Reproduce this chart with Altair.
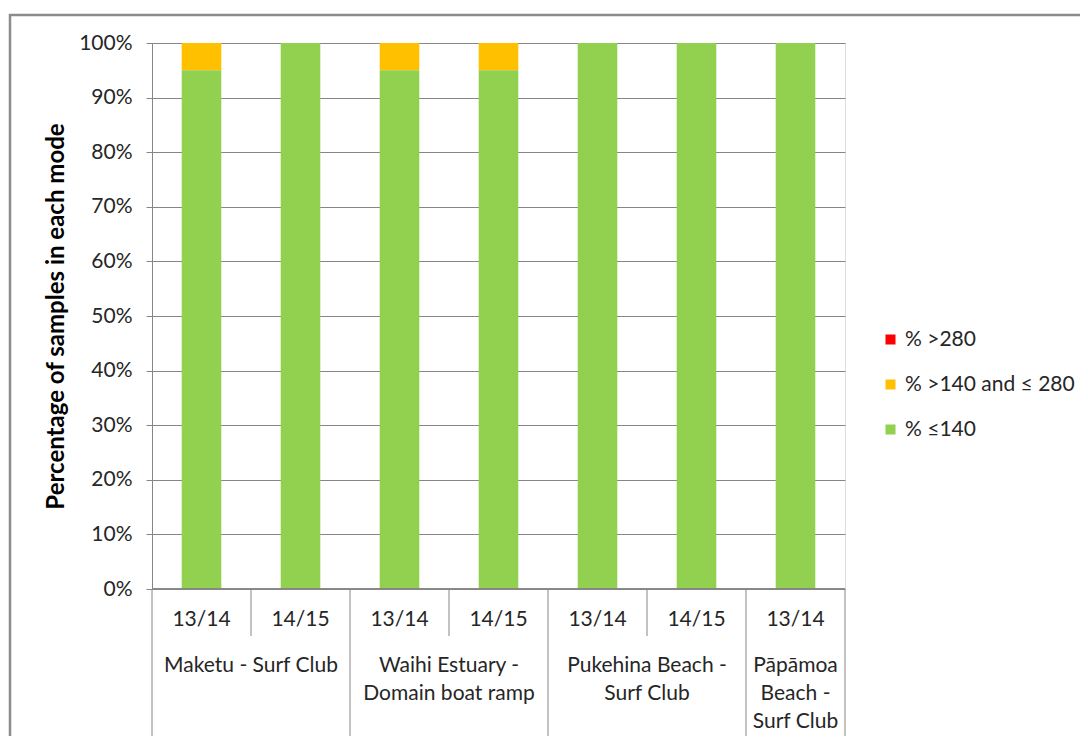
import altair as alt
import pandas as pd

# ---- data ----
sites = ["Maketu - Surf Club", "Maketu - Surf Club",
         "Waihi Estuary - Domain boat ramp", "Waihi Estuary - Domain boat ramp",
         "Pukehina Beach - Surf Club", "Pukehina Beach - Surf Club",
         "Pāpāmoa Beach - Surf Club"]
years = ["13/14", "14/15", "13/14", "14/15", "13/14", "14/15", "13/14"]
pct_le140 = [0.95, 1.00, 0.95, 0.95, 1.00, 1.00, 1.00]
pct_140_280 = [0.05, 0.00, 0.05, 0.05, 0.00, 0.00, 0.00]
pct_gt280 = [0.00, 0.00, 0.00, 0.00, 0.00, 0.00, 0.00]

group_names = ["Maketu - Surf Club", "Waihi Estuary - Domain boat ramp",
               "Pukehina Beach - Surf Club", "Pāpāmoa Beach - Surf Club"]
group_labels = ["Maketu - Surf Club", "Waihi Estuary -\nDomain boat ramp",
                "Pukehina Beach -\nSurf Club", "Pāpāmoa\nBeach -\nSurf Club"]

series = ["% >280", "% >140 and ≤ 280", "% ≤140"]
colors = ["#FF0000", "#FFC000", "#92D050"]
stack_order = {"% ≤140": 0, "% >140 and ≤ 280": 1, "% >280": 2}

FONT = "Lato"
FS = 21
GRID = "#868686"
TXT = "#262626"

# ---- tables ----
ids = [f"{s}|{y}" for s, y in zip(sites, years)]
rows = []
for i, bid in enumerate(ids):
    for name, vals in zip(series, [pct_gt280, pct_140_280, pct_le140]):
        rows.append({"id": bid, "series": name, "value": vals[i],
                     "order": stack_order[name]})
bars_df = pd.DataFrame(rows)
years_df = pd.DataFrame({"id": ids, "year": years})

n = len(ids)
counts = [sites.count(g) for g in group_names]
starts = [sum(counts[:k]) for k in range(len(counts))]
groups_df = pd.DataFrame({
    "pos": [s + c / 2 for s, c in zip(starts, counts)],
    "label": group_labels,
})
long_pos = starts + [n]
short_pos = [s + k for s, c in zip(starts, counts) for k in range(1, c)]
long_df = pd.DataFrame({"pos": long_pos})
short_df = pd.DataFrame({"pos": short_pos})

W, H = 693, 546

xband = alt.X("id:N", sort=ids, axis=None,
              scale=alt.Scale(paddingInner=0.6, paddingOuter=0.3))
xq = alt.X("pos:Q", axis=None, scale=alt.Scale(domain=[0, n], nice=False, zero=False))

bars = alt.Chart(bars_df).mark_bar().encode(
    x=xband,
    y=alt.Y("sum(value):Q", stack="zero",
            scale=alt.Scale(domain=[0, 1]),
            axis=alt.Axis(title="Percentage of samples in each mode",
                          format=".0%", values=[i / 10 for i in range(11)],
                          grid=True, gridColor=GRID, gridWidth=1,
                          domainColor=GRID, tickColor=GRID, tickSize=6,
                          labelFont=FONT, labelFontSize=FS, labelColor=TXT,
                          labelPadding=14, titleFont=FONT, titleFontSize=24,
                          titleFontWeight="bold", titleColor="#000000",
                          titlePadding=10)),
    color=alt.Color("series:N", scale=alt.Scale(domain=series, range=colors),
                    legend=alt.Legend(title=None, orient="none", legendX=728,
                                      legendY=286, symbolType="square",
                                      symbolSize=100, symbolStrokeWidth=0,
                                      labelFont=FONT, labelFontSize=FS,
                                      labelColor=TXT, rowPadding=23,
                                      labelOffset=4, padding=0, labelLimit=400)),
    order=alt.Order("order:Q", sort="ascending"),
)

year_text = alt.Chart(years_df).mark_text(
    font=FONT, fontSize=FS, color=TXT, baseline="middle", align="center"
).encode(x=xband, y=alt.value(H + 31), text="year:N")

long_rules = alt.Chart(long_df).mark_rule(color=GRID, strokeWidth=1).encode(
    x=xq, y=alt.value(H), y2=alt.value(H + 200))
short_rules = alt.Chart(short_df).mark_rule(color=GRID, strokeWidth=1).encode(
    x=xq, y=alt.value(H), y2=alt.value(H + 47))
axis_line = alt.Chart(long_df).mark_rule(color=GRID, strokeWidth=1).encode(
    x=alt.value(0), x2=alt.value(W), y=alt.value(H))

group_text = alt.Chart(groups_df).mark_text(
    font=FONT, fontSize=FS, color=TXT, baseline="top", align="center",
    lineBreak="\n", lineHeight=28
).encode(x=xq, y=alt.value(H + 66), text="label:N")

border = alt.Chart(long_df.head(1)).mark_rect(
    fill=None, stroke="#8C8C8C", strokeWidth=2.5
).encode(x=alt.value(-142), x2=alt.value(1000), y=alt.value(-28), y2=alt.value(800))

chart = alt.layer(
    border, bars, year_text, long_rules, short_rules, axis_line, group_text
).resolve_scale(x="independent").properties(
    width=W, height=H,
    autosize=alt.AutoSizeParams(type="none"),
    padding={"left": 144, "top": 35, "right": 235, "bottom": 147},
).configure_view(stroke=None).configure(background="white")

chart.save("out.html", embed_options={"renderer": "svg", "actions": False})
